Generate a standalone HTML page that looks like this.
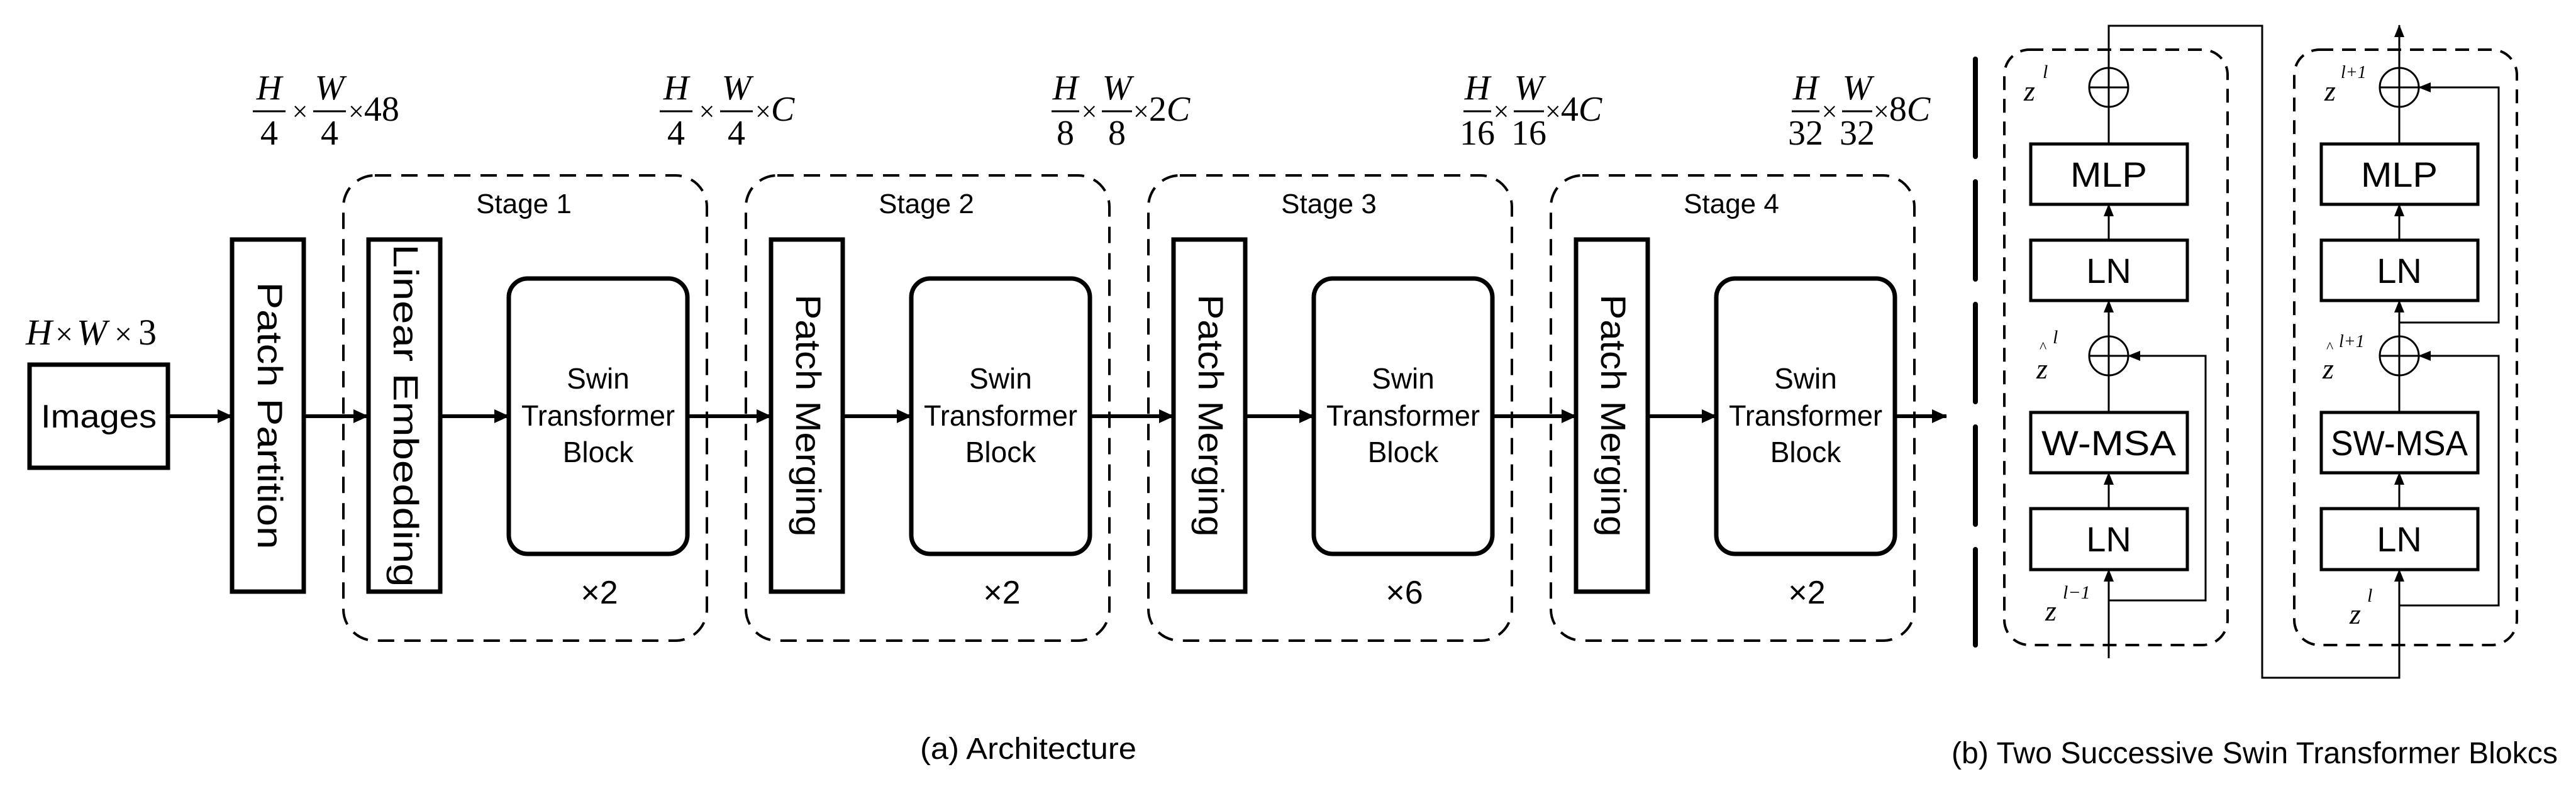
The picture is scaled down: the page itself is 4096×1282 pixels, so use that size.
<!DOCTYPE html>
<html><head><meta charset="utf-8"><style>
html,body{margin:0;padding:0;background:#fff;}
svg{display:block;}
.s{font-family:"Liberation Sans",sans-serif;}
.m{font-family:"Liberation Serif",serif;}
</style></head><body>
<svg width="4096" height="1282" viewBox="0 0 4096 1282" xmlns="http://www.w3.org/2000/svg">
<defs>
<marker id="ab" markerWidth="24" markerHeight="22" refX="23" refY="11" orient="auto" markerUnits="userSpaceOnUse"><path d="M0,0 L24,11 L0,22 z" fill="#000"/></marker>
<marker id="as" markerWidth="20" markerHeight="16" refX="19" refY="8" orient="auto" markerUnits="userSpaceOnUse"><path d="M0,0 L20,8 L0,16 z" fill="#000"/></marker>
</defs>

<text x="41" y="548" class="m" font-size="58" font-style="italic">H</text>
<text x="88" y="548" class="m" font-size="50">×</text>
<text x="122" y="548" class="m" font-size="58" font-style="italic">W</text>
<text x="182" y="548" class="m" font-size="50">×</text>
<text x="220" y="548" class="m" font-size="58">3</text>

<rect x="47" y="580" width="220" height="164" fill="none" stroke="#000" stroke-width="7"/>
<text x="157" y="680" class="s" font-size="52" text-anchor="middle" textLength="184" lengthAdjust="spacingAndGlyphs">Images</text>

<rect x="369" y="381" width="114" height="560" fill="none" stroke="#000" stroke-width="7"/>
<text transform="translate(410,661) rotate(90)" class="s" font-size="56" text-anchor="middle" textLength="425" lengthAdjust="spacingAndGlyphs">Patch Partition</text>

<g stroke="#000" stroke-width="6" fill="none">
<line x1="267" y1="662" x2="369" y2="662" marker-end="url(#ab)"/>
<line x1="483" y1="662" x2="585" y2="662" marker-end="url(#ab)"/>
</g>

<g fill="none" stroke="#000">
<rect x="546" y="279" width="578" height="740" rx="50" stroke-width="4" stroke-dasharray="26,16"/>
<rect x="1186" y="279" width="578" height="740" rx="50" stroke-width="4" stroke-dasharray="26,16"/>
<rect x="1826" y="279" width="578" height="740" rx="50" stroke-width="4" stroke-dasharray="26,16"/>
<rect x="2466" y="279" width="578" height="740" rx="50" stroke-width="4" stroke-dasharray="26,16"/>
<rect x="586" y="381" width="114" height="560" stroke-width="7"/>
<rect x="1226" y="381" width="114" height="560" stroke-width="7"/>
<rect x="1866" y="381" width="114" height="560" stroke-width="7"/>
<rect x="2506" y="381" width="114" height="560" stroke-width="7"/>
<rect x="809" y="443" width="284" height="438" rx="30" stroke-width="7"/>
<rect x="1449" y="443" width="284" height="438" rx="30" stroke-width="7"/>
<rect x="2089" y="443" width="284" height="438" rx="30" stroke-width="7"/>
<rect x="2729" y="443" width="284" height="438" rx="30" stroke-width="7"/>
<g stroke-width="6">
<line x1="700" y1="662" x2="809" y2="662" marker-end="url(#ab)"/>
<line x1="1093" y1="662" x2="1226" y2="662" marker-end="url(#ab)"/>
<line x1="1340" y1="662" x2="1449" y2="662" marker-end="url(#ab)"/>
<line x1="1733" y1="662" x2="1866" y2="662" marker-end="url(#ab)"/>
<line x1="1980" y1="662" x2="2089" y2="662" marker-end="url(#ab)"/>
<line x1="2373" y1="662" x2="2506" y2="662" marker-end="url(#ab)"/>
<line x1="2620" y1="662" x2="2729" y2="662" marker-end="url(#ab)"/>
<line x1="3013" y1="662" x2="3095" y2="662" marker-end="url(#ab)"/>
</g>
</g>

<g class="s" text-anchor="middle">
<text x="833" y="339" font-size="44">Stage 1</text>
<text x="1473" y="339" font-size="44">Stage 2</text>
<text x="2113" y="339" font-size="44">Stage 3</text>
<text x="2753" y="339" font-size="44">Stage 4</text>

<text transform="translate(626,661) rotate(90)" font-size="56" textLength="545" lengthAdjust="spacingAndGlyphs">Linear Embedding</text>
<text transform="translate(1266,661) rotate(90)" font-size="56" textLength="385" lengthAdjust="spacingAndGlyphs">Patch Merging</text>
<text transform="translate(1906,661) rotate(90)" font-size="56" textLength="385" lengthAdjust="spacingAndGlyphs">Patch Merging</text>
<text transform="translate(2546,661) rotate(90)" font-size="56" textLength="385" lengthAdjust="spacingAndGlyphs">Patch Merging</text>

<g font-size="46">
<text x="951" y="618">Swin</text><text x="951" y="677" textLength="244" lengthAdjust="spacingAndGlyphs">Transformer</text><text x="951" y="735">Block</text>
<text x="1591" y="618">Swin</text><text x="1591" y="677" textLength="244" lengthAdjust="spacingAndGlyphs">Transformer</text><text x="1591" y="735">Block</text>
<text x="2231" y="618">Swin</text><text x="2231" y="677" textLength="244" lengthAdjust="spacingAndGlyphs">Transformer</text><text x="2231" y="735">Block</text>
<text x="2871" y="618">Swin</text><text x="2871" y="677" textLength="244" lengthAdjust="spacingAndGlyphs">Transformer</text><text x="2871" y="735">Block</text>
</g>
<g font-size="52">
<text x="953" y="960">×2</text>
<text x="1593" y="960">×2</text>
<text x="2233" y="960">×6</text>
<text x="2873" y="960">×2</text>
</g>
</g>

<g class="m" font-size="56" text-anchor="middle">
 <g transform="translate(402,0)">
  <text x="26" y="158" font-style="italic">H</text><line x1="0" y1="177" x2="52" y2="177" stroke="#000" stroke-width="3"/><text x="26" y="230">4</text>
  <text x="75" y="192" font-size="44">×</text>
  <text x="122" y="158" font-style="italic">W</text><line x1="96" y1="177" x2="148" y2="177" stroke="#000" stroke-width="3"/><text x="122" y="230">4</text>
  <text x="152" y="192" text-anchor="start"><tspan font-size="44">×</tspan>48</text>
 </g>
 <g transform="translate(1049,0)">
  <text x="26" y="158" font-style="italic">H</text><line x1="0" y1="177" x2="52" y2="177" stroke="#000" stroke-width="3"/><text x="26" y="230">4</text>
  <text x="75" y="192" font-size="44">×</text>
  <text x="122" y="158" font-style="italic">W</text><line x1="96" y1="177" x2="148" y2="177" stroke="#000" stroke-width="3"/><text x="122" y="230">4</text>
  <text x="152" y="192" text-anchor="start"><tspan font-size="44">×</tspan><tspan font-style="italic">C</tspan></text>
 </g>
 <g transform="translate(1672,0)">
  <text x="22" y="158" font-style="italic">H</text><line x1="0" y1="177" x2="44" y2="177" stroke="#000" stroke-width="3"/><text x="22" y="230">8</text>
  <text x="60" y="192" font-size="44">×</text>
  <text x="104" y="158" font-style="italic">W</text><line x1="80" y1="177" x2="128" y2="177" stroke="#000" stroke-width="3"/><text x="104" y="230">8</text>
  <text x="130" y="192" text-anchor="start"><tspan font-size="44">×</tspan>2<tspan font-style="italic">C</tspan></text>
 </g>
 <g transform="translate(2327,0)">
  <text x="22" y="158" font-style="italic">H</text><line x1="0" y1="177" x2="44" y2="177" stroke="#000" stroke-width="3"/><text x="22" y="230">16</text>
  <text x="60" y="192" font-size="44">×</text>
  <text x="104" y="158" font-style="italic">W</text><line x1="80" y1="177" x2="128" y2="177" stroke="#000" stroke-width="3"/><text x="104" y="230">16</text>
  <text x="130" y="192" text-anchor="start"><tspan font-size="44">×</tspan>4<tspan font-style="italic">C</tspan></text>
 </g>
 <g transform="translate(2849,0)">
  <text x="22" y="158" font-style="italic">H</text><line x1="0" y1="177" x2="44" y2="177" stroke="#000" stroke-width="3"/><text x="22" y="230">32</text>
  <text x="60" y="192" font-size="44">×</text>
  <text x="104" y="158" font-style="italic">W</text><line x1="80" y1="177" x2="128" y2="177" stroke="#000" stroke-width="3"/><text x="104" y="230">32</text>
  <text x="130" y="192" text-anchor="start"><tspan font-size="44">×</tspan>8<tspan font-style="italic">C</tspan></text>
 </g>
</g>

<line x1="3141" y1="94" x2="3141" y2="1026" stroke="#000" stroke-width="8" stroke-dasharray="155,40" stroke-linecap="round"/>

<g fill="none" stroke="#000">
<rect x="3187" y="79" width="355" height="947" rx="40" stroke-width="4" stroke-dasharray="22,14"/>
<rect x="3648" y="79" width="354" height="947" rx="40" stroke-width="4" stroke-dasharray="22,14"/>
<g stroke-width="5">
<rect x="3229" y="229" width="249" height="96"/>
<rect x="3229" y="382" width="249" height="96"/>
<rect x="3229" y="656" width="249" height="96"/>
<rect x="3229" y="809" width="249" height="97"/>
<rect x="3691" y="229" width="249" height="96"/>
<rect x="3691" y="382" width="249" height="96"/>
<rect x="3691" y="656" width="249" height="96"/>
<rect x="3691" y="809" width="249" height="97"/>
</g>
<g stroke-width="3">
<ellipse cx="3353" cy="139" rx="31" ry="31"/><line x1="3322" y1="139" x2="3384" y2="139"/>
<ellipse cx="3353" cy="566" rx="31" ry="31"/><line x1="3322" y1="566" x2="3384" y2="566"/>
<ellipse cx="3815" cy="139" rx="31" ry="31"/><line x1="3784" y1="139" x2="3846" y2="139"/>
<ellipse cx="3815" cy="566" rx="31" ry="31"/><line x1="3784" y1="566" x2="3846" y2="566"/>
<line x1="3353" y1="1047" x2="3353" y2="906" marker-end="url(#as)"/>
<polyline points="3353,955 3507,955 3507,566 3384,566" marker-end="url(#as)"/>
<line x1="3353" y1="656" x2="3353" y2="535"/>
<line x1="3353" y1="597" x2="3353" y2="478" marker-end="url(#as)"/>
<line x1="3353" y1="809" x2="3353" y2="752" marker-end="url(#as)"/>
<line x1="3353" y1="382" x2="3353" y2="325" marker-end="url(#as)"/>
<line x1="3353" y1="229" x2="3353" y2="108"/>
<polyline points="3353,170 3353,41 3597,41 3597,1078 3815,1078 3815,906" marker-end="url(#as)"/>
<polyline points="3815,963 3973,963 3973,566 3846,566" marker-end="url(#as)"/>
<line x1="3815" y1="809" x2="3815" y2="752" marker-end="url(#as)"/>
<line x1="3815" y1="656" x2="3815" y2="535"/>
<line x1="3815" y1="597" x2="3815" y2="478" marker-end="url(#as)"/>
<polyline points="3815,513 3973,513 3973,139 3846,139" marker-end="url(#as)"/>
<line x1="3815" y1="382" x2="3815" y2="325" marker-end="url(#as)"/>
<line x1="3815" y1="229" x2="3815" y2="40" marker-end="url(#as)"/>
</g>
</g>

<g class="s" font-size="56" text-anchor="middle">
<text x="3353" y="297" textLength="122" lengthAdjust="spacingAndGlyphs">MLP</text>
<text x="3353" y="450">LN</text>
<text x="3353" y="724" textLength="214" lengthAdjust="spacingAndGlyphs">W-MSA</text>
<text x="3353" y="877">LN</text>
<text x="3815" y="297" textLength="122" lengthAdjust="spacingAndGlyphs">MLP</text>
<text x="3815" y="450">LN</text>
<text x="3815" y="724" textLength="218" lengthAdjust="spacingAndGlyphs">SW-MSA</text>
<text x="3815" y="877">LN</text>
</g>

<g class="m" font-style="italic">
<text x="3218" y="160" font-size="46">z</text><text x="3248" y="124" font-size="30">l</text>
<text x="3238" y="602" font-size="46">z</text><text x="3243" y="560" font-size="24" font-style="normal">^</text><text x="3264" y="546" font-size="30">l</text>
<text x="3252" y="987" font-size="46">z</text><text x="3280" y="952" font-size="30">l−1</text>
<text x="3696" y="160" font-size="46">z</text><text x="3722" y="124" font-size="28">l+1</text>
<text x="3693" y="602" font-size="46">z</text><text x="3699" y="560" font-size="24" font-style="normal">^</text><text x="3719" y="552" font-size="28">l+1</text>
<text x="3736" y="992" font-size="46">z</text><text x="3764" y="957" font-size="30">l</text>
</g>

<g class="s" font-size="48">
<text x="1463" y="1207" textLength="344" lengthAdjust="spacingAndGlyphs">(a) Architecture</text>
<text x="3103" y="1214" textLength="964" lengthAdjust="spacingAndGlyphs">(b) Two Successive Swin Transformer Blokcs</text>
</g>
</svg>
</body></html>
